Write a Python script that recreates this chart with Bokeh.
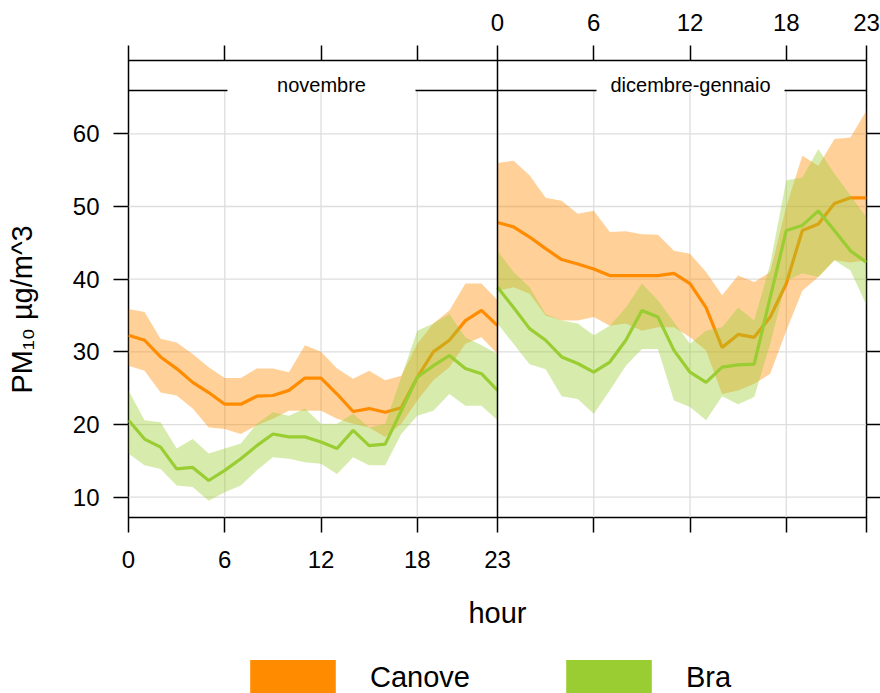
from bokeh.plotting import figure
from bokeh.layouts import column
from bokeh.models import (Range1d, LinearAxis, FixedTicker, Legend, LegendItem,
                          Span, Title)
from bokeh.embed import file_html
from bokeh.resources import INLINE
from bokeh.core.properties import value

# ---- data: hourly mean PM10 with confidence band, per period and site ----
hours = list(range(24))
periods = ["novembre", "dicembre-gennaio"]
sites = ["Canove", "Bra"]

nov_canove = [32.3, 31.6, 29.3, 27.7, 25.8, 24.4, 22.8, 22.8, 23.9, 24.0, 24.7, 26.4,
              26.4, 24.2, 21.8, 22.2, 21.7, 22.3, 26.5, 30.0, 31.6, 34.3, 35.7, 33.6]
nov_canove_hi = [35.9, 35.5, 31.8, 31.3, 29.7, 27.9, 26.4, 26.4, 27.7, 27.7, 27.2, 30.9,
                 30.0, 27.7, 26.3, 27.4, 26.1, 26.7, 31.1, 33.9, 35.7, 39.4, 39.4, 37.1]
nov_canove_lo = [28.1, 27.4, 24.4, 24.0, 22.2, 19.6, 19.4, 18.7, 19.9, 20.8, 21.9, 21.9,
                 21.9, 20.8, 20.1, 19.6, 18.3, 20.1, 23.3, 26.1, 27.9, 31.1, 32.0, 29.7]

nov_bra = [20.6, 18.0, 16.9, 13.9, 14.1, 12.3, 13.7, 15.3, 17.1, 18.7, 18.3, 18.3,
           17.6, 16.7, 19.2, 17.1, 17.3, 21.9, 26.5, 28.1, 29.5, 27.7, 27.0, 24.7]
nov_bra_hi = [24.7, 20.6, 20.3, 16.7, 18.0, 16.0, 16.7, 17.4, 20.1, 21.7, 21.2, 22.2,
              20.1, 20.1, 21.5, 19.6, 20.1, 26.5, 32.9, 33.9, 35.2, 32.0, 30.9, 29.7]
nov_bra_lo = [16.0, 14.4, 13.9, 11.6, 11.4, 9.5, 10.7, 11.6, 13.7, 15.5, 15.3, 14.8,
              14.6, 13.2, 15.5, 14.4, 14.4, 18.7, 21.2, 21.9, 24.2, 22.6, 22.6, 20.6]

dic_canove = [47.8, 47.2, 45.8, 44.2, 42.7, 42.1, 41.4, 40.5, 40.5, 40.5, 40.5, 40.8,
              39.4, 36.1, 30.6, 32.4, 32.0, 34.8, 39.4, 46.7, 47.6, 50.4, 51.2, 51.2]
dic_canove_hi = [56.0, 56.3, 54.3, 51.2, 50.8, 49.0, 49.4, 46.5, 46.6, 46.2, 46.1, 43.9,
                 43.5, 41.0, 37.8, 40.5, 39.6, 41.0, 50.0, 57.0, 55.6, 59.3, 59.5, 63.2]
dic_canove_lo = [38.4, 38.9, 38.0, 35.0, 34.3, 34.3, 34.8, 33.6, 33.9, 32.9, 33.4, 33.4,
                 32.0, 30.2, 24.2, 24.7, 25.6, 27.0, 32.9, 38.4, 40.3, 42.6, 42.3, 42.6]

dic_bra = [38.9, 36.1, 33.2, 31.6, 29.3, 28.4, 27.2, 28.6, 31.6, 35.7, 34.8, 30.2,
           27.2, 25.8, 27.9, 28.2, 28.3, 37.5, 46.7, 47.4, 49.4, 46.7, 43.9, 42.3]
dic_bra_hi = [43.9, 41.0, 38.9, 35.2, 34.3, 33.9, 32.3, 33.6, 36.1, 39.4, 37.1, 34.1,
              31.1, 32.9, 33.4, 36.1, 34.3, 42.1, 53.6, 54.0, 57.9, 54.5, 51.5, 48.5]
dic_bra_lo = [33.9, 31.1, 28.3, 27.6, 23.9, 23.5, 21.5, 24.7, 28.1, 30.4, 30.4, 23.3,
              22.4, 20.6, 23.9, 22.8, 23.8, 31.1, 39.8, 40.8, 40.3, 42.6, 41.2, 36.4]

hour_ticks = [0, 6, 12, 18, 23]
y_ticks = [10, 20, 30, 40, 50, 60]

series = {
    ("novembre", "Canove"): (nov_canove, nov_canove_lo, nov_canove_hi),
    ("novembre", "Bra"): (nov_bra, nov_bra_lo, nov_bra_hi),
    ("dicembre-gennaio", "Canove"): (dic_canove, dic_canove_lo, dic_canove_hi),
    ("dicembre-gennaio", "Bra"): (dic_bra, dic_bra_lo, dic_bra_hi),
}

# ---- styling ----
FONT = "Liberation Sans"
COLORS = {"Canove": "#FF8C00", "Bra": "#9ACD32"}
GRID = "#dedede"
SPAN_H = 23                 # width of one panel in hours
Y_BOTTOM, Y_PANEL_TOP, Y_TOP = 7.21, 65.96, 70.09   # strip sits above the panel top

p = figure(width=880, height=660, output_backend="svg", toolbar_location=None,
           x_range=Range1d(0, 2 * SPAN_H), y_range=Range1d(Y_BOTTOM, Y_TOP),
           x_axis_location=None, y_axis_location=None,
           min_border_left=128, min_border_right=14, min_border_top=60,
           min_border_bottom=143)
p.xgrid.visible = False
p.ygrid.visible = False
p.outline_line_color = "black"
p.outline_line_width = 1.5
p.background_fill_color = "white"
p.border_fill_color = "white"

# grid lines inside the panels only
p.segment(x0=[0] * len(y_ticks), x1=[2 * SPAN_H] * len(y_ticks), y0=y_ticks, y1=y_ticks,
          line_color=GRID, line_width=1.3)
vx = [h + k * SPAN_H for k in range(2) for h in hour_ticks[1:-1]]
p.segment(x0=vx, x1=vx, y0=[Y_BOTTOM] * len(vx), y1=[Y_PANEL_TOP] * len(vx),
          line_color=GRID, line_width=1.3)

# bands and mean lines
for k, period in enumerate(periods):
    xs = [h + k * SPAN_H for h in hours]
    for site in sites:
        mean, lo, hi = series[(period, site)]
        p.varea(x=xs, y1=lo, y2=hi, fill_color=COLORS[site], fill_alpha=0.4)
        p.line(x=xs, y=mean, line_color=COLORS[site], line_width=3.2)

# panel divider and strip
p.add_layout(Span(location=SPAN_H, dimension="height", line_color="black", line_width=1.5))
strip_x0 = [0, 17.89, SPAN_H, SPAN_H + 17.89]
strip_x1 = [6.17, SPAN_H, SPAN_H + 6.17, 2 * SPAN_H]
p.segment(x0=strip_x0, x1=strip_x1, y0=[Y_PANEL_TOP] * 4, y1=[Y_PANEL_TOP] * 4,
          line_color="black", line_width=1.5)
p.text(x=[12.03, 12.03 + SPAN_H], y=[66.71, 66.71], text=periods,
       text_font=value(FONT), text_font_size="20px", text_color="black",
       text_align="center", text_baseline="alphabetic")

# axes
def hour_axis(labelled_panel, **kw):
    ticks = sorted(set(h + k * SPAN_H for k in range(2) for h in hour_ticks))
    over = {t: "" for t in ticks}
    for h in hour_ticks:
        over[h + labelled_panel * SPAN_H] = str(h)
    return LinearAxis(ticker=FixedTicker(ticks=ticks), major_label_overrides=over,
                      major_tick_out=15, major_tick_in=0, minor_tick_out=0, minor_tick_in=0,
                      axis_line_color=None, major_tick_line_width=1.5,
                      major_tick_line_color="black",
                      major_label_text_font=FONT, major_label_text_font_size="24px",
                      major_label_text_color="black", **kw)

bottom = hour_axis(0, axis_label="hour", axis_label_text_font=FONT,
                   axis_label_text_font_size="29px", axis_label_text_font_style="normal",
                   axis_label_text_color="black", axis_label_standoff=26,
                   major_label_standoff=18)
top = hour_axis(1, major_label_standoff=15)
p.add_layout(bottom, "below")
p.add_layout(top, "above")

left = LinearAxis(ticker=FixedTicker(ticks=y_ticks), major_tick_out=15, major_tick_in=0,
                  minor_tick_out=0, minor_tick_in=0, axis_line_color=None,
                  major_tick_line_width=1.5, major_tick_line_color="black",
                  major_label_text_font=FONT, major_label_text_font_size="24px",
                  major_label_text_color="black", major_label_standoff=14)
right = LinearAxis(ticker=FixedTicker(ticks=y_ticks), major_tick_out=14, major_tick_in=0,
                   minor_tick_out=0, minor_tick_in=0, axis_line_color=None,
                   major_tick_line_width=1.5, major_tick_line_color="black",
                   major_label_overrides={t: "" for t in y_ticks},
                   major_label_standoff=0, major_label_text_font_size="1px")
p.add_layout(left, "left")
p.add_layout(right, "right")

# y title, starting a little above the bottom of the panel
p.add_layout(Title(text="PM₁₀ µg/m^3", align="left", vertical_align="bottom", offset=124,
                   standoff=4, padding=dict(left=0, right=0, top=0, bottom=30),
                   text_font=FONT, text_font_size="29px",
                   text_font_style="normal", text_color="black"), "left")

# legend strip underneath
leg = figure(width=880, height=33, output_backend="svg", toolbar_location=None,
             x_range=Range1d(0, 1), y_range=Range1d(0, 1),
             x_axis_location=None, y_axis_location=None,
             min_border_left=0, min_border_right=0, min_border_top=0, min_border_bottom=0)
leg.xgrid.visible = False
leg.ygrid.visible = False
leg.outline_line_color = None
keys = []
for site in sites:
    r = leg.varea(x=[5, 6], y1=[5, 5], y2=[6, 6], fill_color=COLORS[site], fill_alpha=1.0)
    keys.append(LegendItem(label=site, renderers=[r]))
legend = Legend(items=keys, orientation="horizontal", location=(111, -8),
                glyph_width=107, glyph_height=48, label_height=48, label_standoff=24,
                spacing=85, padding=0, margin=0, border_line_color=None,
                background_fill_alpha=0, label_text_font=FONT,
                label_text_font_size="29px", label_text_color="black")
leg.add_layout(legend, "center")

layout = column(p, leg, spacing=0)
open("out.html", "w").write(file_html(layout, INLINE))
